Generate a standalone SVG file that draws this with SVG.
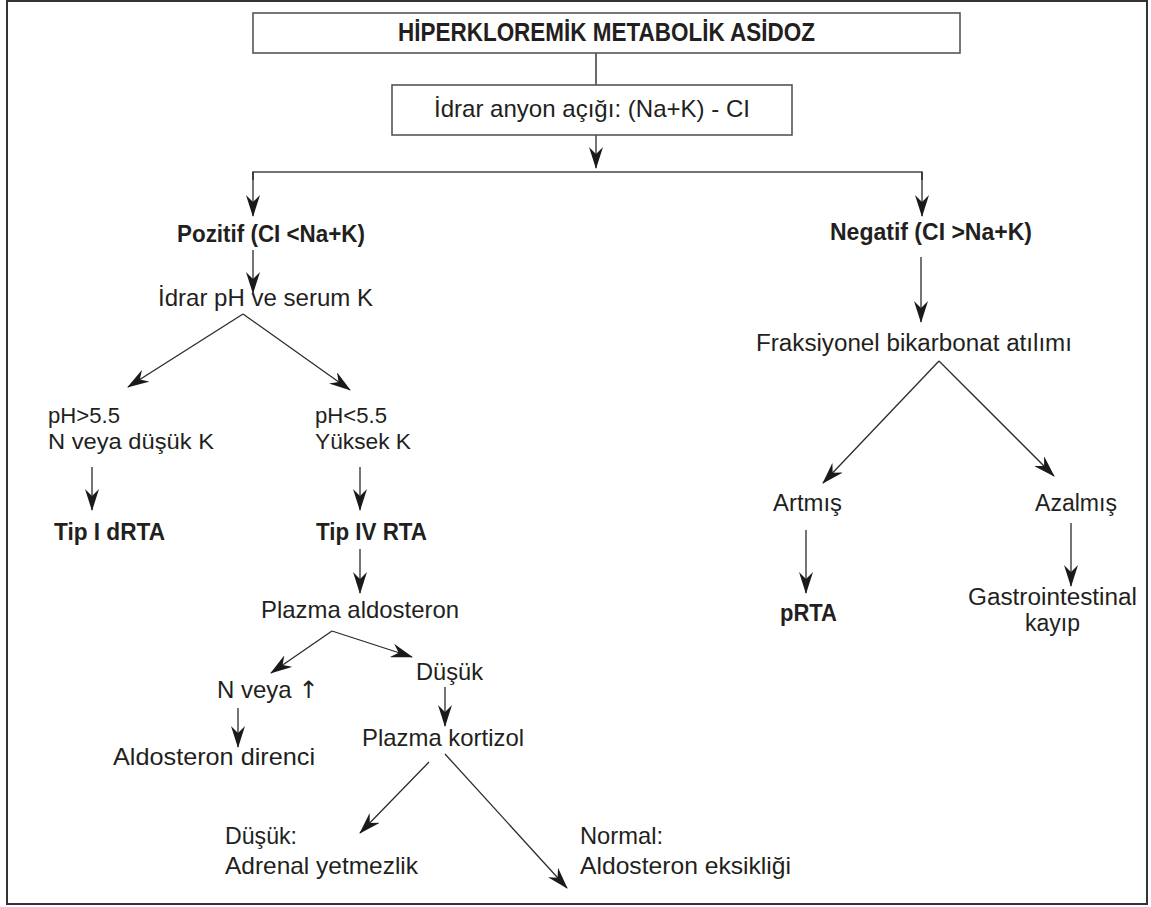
<svg xmlns="http://www.w3.org/2000/svg" width="1151" height="907" viewBox="0 0 1151 907">
<style>
text{font-family:"Liberation Sans",Arial,sans-serif;fill:#231f20;font-size:24px}
.r{font-size:23px}
.s{font-size:22px}
.b{font-weight:bold;font-size:24px}
.t{font-weight:bold;font-size:26px}
.box{fill:#fff;stroke:#555;stroke-width:1.6}
.c{fill:none;stroke:#2b2b2b;stroke-width:1.3;marker-end:url(#ah)}
.n{fill:none;stroke:#444;stroke-width:1.6}
.ar{font-family:"DejaVu Sans",sans-serif}
</style>
<defs>
<marker id="ah" markerUnits="userSpaceOnUse" markerWidth="22" markerHeight="14" refX="21" refY="7" orient="auto" viewBox="0 0 22 14">
<path d="M0,0 L22,7 L0,14 L7,7 Z" fill="#1a1a1a"/>
</marker>
</defs>
<rect x="7" y="1" width="1140" height="903" fill="#fff" stroke="#333" stroke-width="2"/>
<g id="connectors">
<line class="n" x1="596" y1="53" x2="596" y2="85"/>
<line class="c" x1="596" y1="135" x2="596" y2="168"/>
<polyline class="n" points="253,180 253,172 922,172 922,180"/>
<line class="c" x1="253" y1="172" x2="253" y2="216"/>
<line class="c" x1="922" y1="172" x2="922" y2="216"/>
<line class="c" x1="253" y1="250" x2="253" y2="293"/>
<line class="c" x1="243" y1="314" x2="128" y2="387"/>
<line class="c" x1="243" y1="314" x2="350" y2="390"/>
<line class="c" x1="92" y1="467" x2="92" y2="510"/>
<line class="c" x1="360" y1="467" x2="360" y2="510"/>
<line class="c" x1="360" y1="549" x2="360" y2="593"/>
<line class="c" x1="332" y1="631" x2="271" y2="673"/>
<line class="c" x1="332" y1="631" x2="412" y2="657"/>
<line class="c" x1="238" y1="708" x2="238" y2="747"/>
<line class="c" x1="445" y1="687" x2="445" y2="726"/>
<line class="c" x1="429" y1="762" x2="360" y2="833"/>
<line class="c" x1="445" y1="754" x2="567" y2="888"/>
<line class="c" x1="921" y1="257" x2="921" y2="322"/>
<line class="c" x1="939" y1="361" x2="823" y2="483"/>
<line class="c" x1="939" y1="361" x2="1054" y2="476"/>
<line class="c" x1="806" y1="530" x2="806" y2="593"/>
<line class="c" x1="1071" y1="523" x2="1071" y2="586"/>
</g>
<g id="title">
<rect class="box" x="253" y="13" width="707" height="40"/>
<text class="t" x="398" y="41" textLength="417" lengthAdjust="spacingAndGlyphs">HİPERKLOREMİK METABOLİK ASİDOZ</text>
</g>
<g id="anion">
<rect class="box" x="392" y="85" width="400" height="50"/>
<text x="434" y="117" textLength="316" lengthAdjust="spacingAndGlyphs">İdrar anyon açığı: (Na+K) - CI</text>
</g>
<g id="pozitif"><text class="b" x="177" y="242" textLength="188" lengthAdjust="spacingAndGlyphs">Pozitif (CI &lt;Na+K)</text></g>
<g id="idrarph"><text x="158" y="306" textLength="215" lengthAdjust="spacingAndGlyphs">İdrar pH ve serum K</text></g>
<g id="phgt">
<text class="s" x="48" y="423" textLength="72" lengthAdjust="spacingAndGlyphs">pH&gt;5.5</text>
<text class="s" x="48" y="449" textLength="166" lengthAdjust="spacingAndGlyphs">N veya düşük K</text>
</g>
<g id="phlt">
<text class="s" x="315" y="423" textLength="72" lengthAdjust="spacingAndGlyphs">pH&lt;5.5</text>
<text class="s" x="315" y="449" textLength="96" lengthAdjust="spacingAndGlyphs">Yüksek K</text>
</g>
<g id="tip1"><text class="b" x="54" y="540" textLength="111" lengthAdjust="spacingAndGlyphs">Tip I dRTA</text></g>
<g id="tip4"><text class="b" x="316" y="540" textLength="111" lengthAdjust="spacingAndGlyphs">Tip IV RTA</text></g>
<g id="aldo"><text x="261" y="618" textLength="198" lengthAdjust="spacingAndGlyphs">Plazma aldosteron</text></g>
<g id="nveya"><text x="217" y="698">N veya <tspan class="ar">↑</tspan></text></g>
<g id="dusuk1"><text x="416" y="680" textLength="67" lengthAdjust="spacingAndGlyphs">Düşük</text></g>
<g id="direnc"><text x="113" y="765" textLength="202" lengthAdjust="spacingAndGlyphs">Aldosteron direnci</text></g>
<g id="kortizol"><text x="362" y="746" textLength="162" lengthAdjust="spacingAndGlyphs">Plazma kortizol</text></g>
<g id="adrenal">
<text x="225" y="844" textLength="72" lengthAdjust="spacingAndGlyphs">Düşük:</text>
<text x="225" y="874" textLength="193" lengthAdjust="spacingAndGlyphs">Adrenal yetmezlik</text>
</g>
<g id="normal">
<text x="580" y="844" textLength="83" lengthAdjust="spacingAndGlyphs">Normal:</text>
<text x="580" y="874" textLength="211" lengthAdjust="spacingAndGlyphs">Aldosteron eksikliği</text>
</g>
<g id="negatif"><text class="b" x="830" y="240" textLength="202" lengthAdjust="spacingAndGlyphs">Negatif (CI &gt;Na+K)</text></g>
<g id="fraks"><text class="r" x="756" y="351" textLength="316" lengthAdjust="spacingAndGlyphs">Fraksiyonel bikarbonat atılımı</text></g>
<g id="artmis"><text class="r" x="773" y="511" textLength="69" lengthAdjust="spacingAndGlyphs">Artmış</text></g>
<g id="azalmis"><text class="r" x="1035" y="511" textLength="82" lengthAdjust="spacingAndGlyphs">Azalmış</text></g>
<g id="prta"><text class="b" x="780" y="621" textLength="57" lengthAdjust="spacingAndGlyphs">pRTA</text></g>
<g id="gi">
<text class="r" x="968" y="605" textLength="169" lengthAdjust="spacingAndGlyphs">Gastrointestinal</text>
<text class="r" x="1025" y="631" textLength="55" lengthAdjust="spacingAndGlyphs">kayıp</text>
</g>
</svg>
